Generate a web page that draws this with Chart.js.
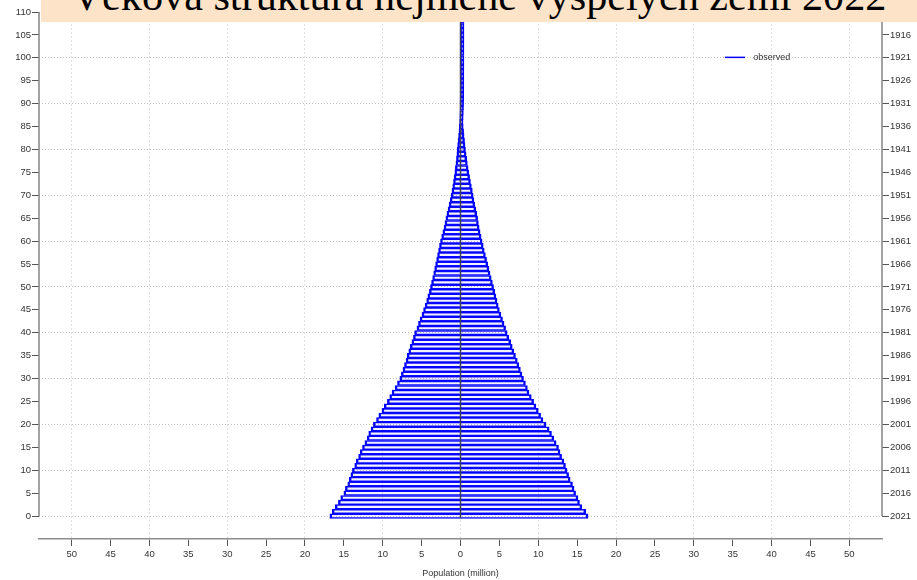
<!DOCTYPE html>
<html>
<head>
<meta charset="utf-8">
<script src="https://cdn.jsdelivr.net/npm/chart.js@4.4.1/dist/chart.umd.min.js"></script>
<style>
  html, body { margin: 0; padding: 0; background: #fff; }
  #wrap { position: relative; width: 917px; height: 580px; overflow: hidden; }
  #chart { position: absolute; left: 0; top: 0; }
  #titlebox { position: absolute; left: 41px; top: 0; width: 876px; height: 22px; background: #fde4c8; overflow: hidden; z-index: 2; }
  #titletext { position: absolute; left: 0; width: 100%; text-align: center; white-space: nowrap; color: #000; font-family: "Liberation Serif", serif; }
</style>
</head>
<body>
<div id="wrap">
  <canvas id="chart" width="917" height="580"></canvas>
  <div id="titlebox"><div id="titletext">Věková struktura nejméně vyspělých zemí 2022</div></div>
</div>
<script>
// age groups (years), bottom to top
const ages = [
  0, 1, 2, 3, 4, 5, 6, 7, 8, 9, 10, 11, 12, 13, 14, 15, 16, 17, 18, 19,
  20, 21, 22, 23, 24, 25, 26, 27, 28, 29, 30, 31, 32, 33, 34, 35, 36, 37, 38, 39,
  40, 41, 42, 43, 44, 45, 46, 47, 48, 49, 50, 51, 52, 53, 54, 55, 56, 57, 58, 59,
  60, 61, 62, 63, 64, 65, 66, 67, 68, 69, 70, 71, 72, 73, 74, 75, 76, 77, 78, 79,
  80, 81, 82, 83, 84, 85, 86, 87, 88, 89, 90, 91, 92, 93, 94, 95, 96, 97, 98, 99,
  100, 101, 102, 103, 104, 105, 106, 107, 108, 109, 110
];

// males, left side (million)
const male = [
  16.8, 16.5, 16.1, 15.7, 15.4, 15.0, 14.8, 14.5, 14.3, 14.1,
  13.9, 13.6, 13.4, 13.1, 12.9, 12.6, 12.3, 12.0, 11.8, 11.5,
  11.2, 10.8, 10.5, 10.1, 9.8, 9.4, 9.1, 8.8, 8.4, 8.1,
  7.8, 7.6, 7.4, 7.2, 7.0, 6.85, 6.65, 6.45, 6.25, 6.05,
  5.9, 5.6, 5.4, 5.2, 4.95, 4.75, 4.55, 4.35, 4.2, 4.0,
  3.86, 3.72, 3.58, 3.45, 3.32, 3.2, 3.07, 2.95, 2.82, 2.7,
  2.57, 2.42, 2.27, 2.12, 2.0, 1.88, 1.75, 1.6, 1.46, 1.33,
  1.2, 1.1, 1.0, 0.9, 0.82, 0.73, 0.66, 0.59, 0.52, 0.47,
  0.43, 0.37, 0.31, 0.25, 0.2, 0.15, 0.12, 0.1, 0.08, 0.06,
  0.05, 0.04, 0.035, 0.03, 0.025, 0.02, 0.016, 0.013, 0.01, 0.008,
  0.006, 0.005, 0.004, 0.004, 0.003, 0.003, 0.002, 0.002, 0.002, 0.001, 0.001
];

// females, right side (million)
const female = [
  16.4, 16.1, 15.6, 15.3, 15.1, 14.8, 14.6, 14.4, 14.1, 13.9,
  13.7, 13.5, 13.3, 13.0, 12.8, 12.6, 12.3, 12.0, 11.7, 11.4,
  11.0, 10.6, 10.3, 10.0, 9.7, 9.4, 9.1, 8.8, 8.6, 8.35,
  8.1, 7.9, 7.7, 7.5, 7.3, 7.07, 6.85, 6.65, 6.45, 6.2,
  6.0, 5.8, 5.6, 5.4, 5.2, 5.0, 4.85, 4.7, 4.55, 4.4,
  4.25, 4.1, 3.95, 3.8, 3.65, 3.5, 3.35, 3.2, 3.05, 2.92,
  2.78, 2.65, 2.52, 2.4, 2.3, 2.2, 2.08, 1.96, 1.84, 1.73,
  1.63, 1.52, 1.4, 1.28, 1.17, 1.07, 0.98, 0.88, 0.8, 0.72,
  0.64, 0.58, 0.52, 0.46, 0.4, 0.35, 0.3, 0.25, 0.21, 0.18,
  0.15, 0.12, 0.1, 0.08, 0.06, 0.05, 0.04, 0.03, 0.025, 0.02,
  0.015, 0.012, 0.01, 0.008, 0.006, 0.005, 0.004, 0.003, 0.002, 0.002, 0.001
];

const censusYear = 2021;   // right axis shows birth year = censusYear - age
const ageTickMax = 110;    // last labelled age on the left axis
const yearTickMax = 105;   // last labelled age on the right axis

const labelFont = { family: 'Liberation Sans', size: 9.5 };
const textColor = '#333';
const clear = 'rgba(0,0,0,0)';

// fit the cropped title to the box width
(function fitTitle() {
  const el = document.getElementById('titletext');
  const ctx = document.createElement('canvas').getContext('2d');
  ctx.font = '100px "Liberation Serif"';
  const m = ctx.measureText(el.textContent);
  const size = 100 * 815 / m.width;
  const asc = m.fontBoundingBoxAscent / 100, desc = m.fontBoundingBoxDescent / 100;
  el.style.fontSize = size + 'px';
  el.style.lineHeight = size + 'px';
  const baselineInBox = size * (1 - asc - desc) / 2 + asc * size;
  el.style.top = (10 - baselineInBox) + 'px';
})();

// axis lines on both sides run only over the labelled ages; legend sits top right
const extras = {
  id: 'extras',
  afterDraw(chart) {
    const { ctx, chartArea, scales } = chart;
    const y = scales.y, x = scales.x;
    ctx.save();
    ctx.strokeStyle = '#8c8c8c';
    ctx.lineWidth = 1.6;
    ctx.beginPath();
    ctx.moveTo(chartArea.left, y.getPixelForValue(ageTickMax));
    ctx.lineTo(chartArea.left, y.getPixelForValue(0));
    ctx.moveTo(chartArea.right, y.getPixelForValue(ageTickMax));
    ctx.lineTo(chartArea.right, y.getPixelForValue(0));
    ctx.stroke();

    const ds = chart.data.datasets[1];
    const ly = y.getPixelForValue(100.1);
    const lx0 = x.getPixelForValue(34.0), lx1 = x.getPixelForValue(36.6);
    ctx.strokeStyle = ds.borderColor;
    ctx.lineWidth = 1.5;
    ctx.beginPath();
    ctx.moveTo(lx0, ly);
    ctx.lineTo(lx1, ly);
    ctx.stroke();
    ctx.fillStyle = textColor;
    ctx.font = '9px "Liberation Sans"';
    ctx.textBaseline = 'middle';
    ctx.fillText(ds.label, lx1 + 8, ly);
    ctx.restore();
  }
};

new Chart(document.getElementById('chart'), {
  type: 'bar',
  data: {
    datasets: [
      {
        type: 'line',
        label: 'zero',
        data: [{ x: 0, y: ages[0] - 0.4 }, { x: 0, y: ages[ages.length - 1] }],
        borderColor: '#3d3d5c',
        borderWidth: 1.5,
        pointRadius: 0,
        order: 0,
      },
      {
        label: 'observed',
        data: ages.map((a, i) => ({ y: a, x: [-male[i], female[i]] })),
        borderColor: '#0000ff',
        backgroundColor: 'rgba(140,140,255,0.12)',
        borderWidth: { left: 1.8, right: 1.8, top: 0.9, bottom: 0.9 },
        borderSkipped: false,
        barPercentage: 1,
        categoryPercentage: 1,
        minBarLength: 3.5,
        order: 1,
      },
    ],
  },
  options: {
    indexAxis: 'y',
    responsive: false,
    devicePixelRatio: 1,
    animation: false,
    layout: { padding: { top: 12, left: 0, right: 0, bottom: 0 } },
    plugins: {
      legend: { display: false },
      title: { display: false },
      tooltip: { enabled: false },
    },
    scales: {
      x: {
        type: 'linear',
        position: 'bottom',
        min: -54.2,
        max: 54.2,
        ticks: {
          stepSize: 5,
          includeBounds: false,
          autoSkip: false,
          maxRotation: 0,
          padding: 3,
          color: textColor,
          font: labelFont,
          callback: (v) => String(Math.abs(v)),
        },
        grid: {
          color: (c) => (c.tick && c.tick.value % 10 === 0 ? '#e0e0e0' : clear),
          tickColor: '#555',
          tickLength: 7,
          lineWidth: 1,
        },
        border: { display: true, color: '#8c8c8c', width: 1.6, dash: [2, 2] },
        title: {
          display: true,
          text: 'Population (million)',
          color: textColor,
          font: { family: 'Liberation Sans', size: 9 },
          padding: { top: 0, bottom: 1.5 },
        },
        afterFit: (s) => { s.height = 41; },
      },
      y: {
        type: 'linear',
        position: 'left',
        min: -5,
        max: 110,
        offset: false,
        ticks: {
          stepSize: 5,
          autoSkip: false,
          padding: 1,
          color: textColor,
          font: labelFont,
          callback: (v) => (v >= 0 && v <= ageTickMax ? String(v) : ''),
        },
        grid: {
          offset: false,
          color: (c) => (c.tick && c.tick.value >= 0 && c.tick.value % 10 === 0 ? '#c0c0c0' : clear),
          tickColor: (c) => (c.tick && c.tick.value >= 0 ? '#555' : clear),
          tickLength: 7,
        },
        border: { display: false, dash: [1, 2] },
        afterFit: (s) => { s.width = 39; },
      },
      y2: {
        type: 'linear',
        position: 'right',
        min: -5,
        max: 110,
        offset: false,
        ticks: {
          stepSize: 5,
          autoSkip: false,
          padding: 1,
          color: textColor,
          font: labelFont,
          callback: (v) => (v >= 0 && v <= yearTickMax ? String(censusYear - v) : ''),
        },
        grid: {
          offset: false,
          drawOnChartArea: false,
          tickColor: (c) => (c.tick && c.tick.value >= 0 && c.tick.value <= yearTickMax ? '#555' : clear),
          tickLength: 7,
        },
        border: { display: false },
        afterFit: (s) => { s.width = 35; },
      },
    },
  },
  plugins: [extras],
});
</script>
</body>
</html>
